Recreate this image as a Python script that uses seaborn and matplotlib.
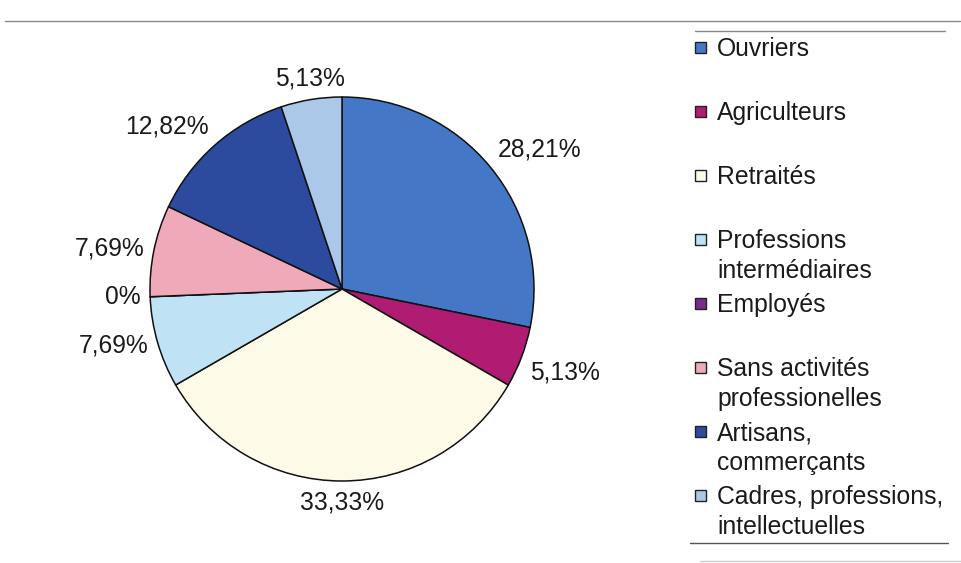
import matplotlib.pyplot as plt
import matplotlib.patches as mpatches
import matplotlib.lines as mlines
import numpy as np
import seaborn as sns

# --- Data ---
categories = ['Ouvriers', 'Agriculteurs', 'Retraités', 'Professions\nintermédiaires',
              'Employés', 'Sans activités\nprofessionelles', 'Artisans,\ncommerçants',
              'Cadres, professions,\nintellectuelles']
shares = [28.21, 5.13, 33.33, 7.69, 0.0, 7.69, 12.82, 5.13]
colors = ['#4477c6', '#b01c72', '#fdfae8', '#bfe3f5', '#7b2a8c', '#f0a9b9', '#2c4b9e', '#abc8e8']

# --- Style ---
sns.set_style('white')
plt.rcParams['font.family'] = ['Liberation Sans', 'DejaVu Sans']
plt.rcParams['font.size'] = 17.7

W, H = 962, 563
fig = plt.figure(figsize=(W / 100, H / 100), dpi=100)

# pie axes: center (342, 289) px, radius 192 px
lim = 1.45
side = 2 * lim * 192
ax = fig.add_axes([(342 - side / 2) / W, (H - 289 - side / 2) / H, side / W, side / H])
wedges, _ = ax.pie(shares, colors=colors, startangle=90, counterclock=False, radius=1,
                   wedgeprops=dict(edgecolor='#111111', linewidth=1.1))
ax.set_xlim(-lim, lim)
ax.set_ylim(-lim, lim)
ax.axis('off')

# --- Percentage labels, outside end ---
for w, v in zip(wedges, shares):
    ang = np.deg2rad((w.theta1 + w.theta2) / 2)
    x, y = np.cos(ang), np.sin(ang)
    ha = 'left' if x > 0.3 else ('right' if x < -0.3 else 'center')
    va = 'bottom' if y > 0.3 else ('top' if y < -0.3 else 'center')
    txt = '0%' if v == 0 else f"{v:.2f}".replace('.', ',') + '%'
    ax.text(1.05 * x, 1.05 * y, txt, ha=ha, va=va, color='#1a1a1a')

# --- Legend (manual, two-line slots) ---
top_y = 47
pitch = 64
for i, (lab, c) in enumerate(zip(categories, colors)):
    yc = top_y + i * pitch
    fig.add_artist(mpatches.Rectangle((695 / W, 1 - (yc + 6) / H), 11 / W, 11 / H,
                                      facecolor=c, edgecolor='#222222', linewidth=1.0,
                                      transform=fig.transFigure))
    fig.text(717 / W, 1 - (yc - 10) / H, lab, ha='left', va='top', color='#1a1a1a',
             fontsize=17.8, linespacing=1.3)

# --- Table rules from the scan ---
for x0, x1, yy, col in [(5, 960, 21, '#888888'), (695, 945, 31, '#888888'),
                         (690, 948, 543, '#555555'), (700, 962, 561, '#cccccc')]:
    fig.add_artist(mlines.Line2D([x0 / W, x1 / W], [1 - yy / H, 1 - yy / H],
                                 color=col, linewidth=1.0, transform=fig.transFigure))

fig.savefig('out.png', dpi=100)
